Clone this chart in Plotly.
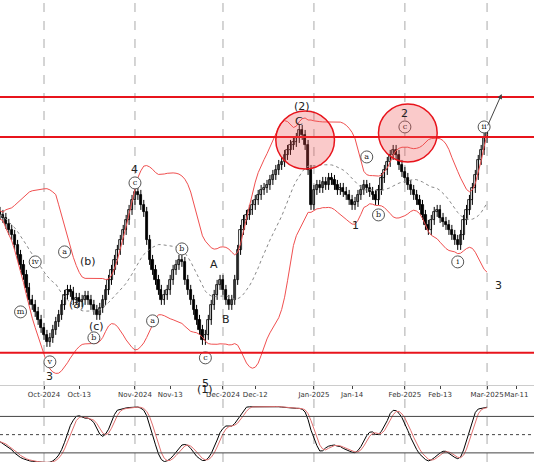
import numpy as np
import pandas as pd
import plotly.graph_objects as go

# daily closes (price units), from 2024-09-16
closes = [185, 182, 176, 170, 165, 155, 145, 135, 125, 112,
          100, 95, 88, 80, 72, 65, 58, 62, 70, 78,
          85, 95, 105, 110, 108, 100, 102, 98, 100, 104,
          100, 95, 90, 85, 92, 100, 110, 120, 130, 140,
          150, 160, 170, 180, 190, 200, 208, 205, 195, 188,
          160, 140, 130, 120, 110, 100, 105, 110, 120, 130,
          135, 140, 138, 120, 110, 100, 90, 80, 70, 60,
          65, 80, 95, 105, 115, 120, 110, 100, 95, 100,
          120, 150, 170, 180, 185, 190, 195, 200, 205, 210,
          212, 215, 220, 225, 230, 235, 238, 245, 250, 255,
          258, 262, 270, 265, 255, 230, 195, 210, 215, 212,
          218, 215, 222, 220, 215, 210, 212, 208, 205, 200,
          195, 198, 205, 210, 215, 212, 208, 205, 200, 210,
          222, 230, 238, 245, 250, 245, 235, 228, 222, 215,
          210, 205, 200, 195, 185, 175, 170, 180, 188, 190,
          182, 178, 175, 170, 165, 160, 155, 165, 180, 190,
          200, 212, 225, 240, 250, 262, 268]
levels = [303, 263, 47]
tick_dates = ["2024-10-01", "2024-10-13", "2024-11-01", "2024-11-13", "2024-12-01",
              "2024-12-12", "2025-01-01", "2025-01-14", "2025-02-01", "2025-02-13", "2025-03-01", "2025-03-11"]
tick_text = ["Oct-2024", "Oct-13", "Nov-2024", "Nov-13", "Dec-2024", "Dec-12",
             "Jan-2025", "Jan-14", "Feb-2025", "Feb-13", "Mar-2025", "Mar-11"]
month_lines = ["2024-10-01", "2024-11-01", "2024-12-01", "2025-01-01", "2025-02-01", "2025-03-01"]
# wave labels: (date, price, text, circled)
labels = [("2024-10-03", 38, "v", True), ("2024-10-03", 23, "3", False),
          ("2024-09-23", 88, "m", True), ("2024-09-28", 138, "iv", True),
          ("2024-10-08", 148, "a", True), ("2024-10-12", 95, "(a)", False),
          ("2024-10-16", 138, "(b)", False), ("2024-10-19", 73, "(c)", False),
          ("2024-10-18", 62, "b", True), ("2024-11-01", 217, "c", True),
          ("2024-11-01", 230, "4", False), ("2024-11-07", 79, "a", True),
          ("2024-11-17", 151, "b", True), ("2024-11-28", 135, "A", False),
          ("2024-12-02", 80, "B", False), ("2024-11-25", 42, "c", True),
          ("2024-11-25", 16, "5", False), ("2024-11-25", 2, "(1)", False),
          ("2024-12-28", 293, "(2)", False), ("2024-12-27", 278, "C", False),
          ("2025-01-19", 243, "a", True), ("2025-01-23", 185, "b", True),
          ("2025-01-15", 174, "1", False), ("2025-02-01", 273, "c", True),
          ("2025-02-01", 286, "2", False), ("2025-02-19", 138, "i", True),
          ("2025-02-28", 273, "ii", True), ("2025-03-05", 114, "3", False)]

YMIN, YMAX, YDOM = 15, 400, (0.167, 1)

dates = pd.date_range("2024-09-16", periods=len(closes), freq="D")
c = pd.Series(closes, index=dates, dtype=float)
o = c.shift(1).fillna(c.iloc[0] + 3)
h = np.maximum(o, c) + 5
l = np.minimum(o, c) - 5

mid = c.rolling(20, min_periods=1).mean()
sd = c.rolling(20, min_periods=2).std().bfill()
up, lo = mid + 2 * sd, mid - 2 * sd
ll, hh = l.rolling(14, min_periods=1).min(), h.rolling(14, min_periods=1).max()
k = (100 * (c - ll) / (hh - ll)).rolling(5, min_periods=1).mean()
d = k.rolling(3, min_periods=1).mean()

fig = go.Figure()
# wicks
wx, wy = [], []
for t, hi, lw in zip(dates, h, l):
    wx += [t, t, None]
    wy += [lw, hi, None]
fig.add_trace(go.Scatter(x=wx, y=wy, mode="lines", line=dict(color="black", width=1), showlegend=False))
# bodies
body = np.maximum(np.abs(c - o), 1.5)
fig.add_trace(go.Bar(x=dates, y=body, base=np.minimum(o, c), width=0.75 * 86400000,
                     marker=dict(color=np.where(c >= o, "white", "black"), line=dict(color="black", width=0.8)),
                     showlegend=False))
fig.add_trace(go.Scatter(x=dates, y=up, mode="lines", line=dict(color="#f05050", width=1), showlegend=False))
fig.add_trace(go.Scatter(x=dates, y=lo, mode="lines", line=dict(color="#f05050", width=1), showlegend=False))
fig.add_trace(go.Scatter(x=dates, y=mid, mode="lines", line=dict(color="#888", width=1, dash="dot"), showlegend=False))

sel = [lb for lb in labels if lb[3]]
fig.add_trace(go.Scatter(
    x=[s[0] for s in sel], y=[s[1] for s in sel], text=[s[2] for s in sel],
    mode="markers+text", textposition="middle center", cliponaxis=False,
    marker=dict(symbol="circle", size=12, color="white", line=dict(color="#555", width=1)),
    textfont=dict(family="DejaVu Serif", size=8, color="#222"), showlegend=False))
for s in labels:
    if not s[3]:
        if s[1] < YMIN:
            py = YDOM[0] + (s[1] - YMIN) / (YMAX - YMIN) * (YDOM[1] - YDOM[0])
            fig.add_annotation(x=s[0], y=py, yref="paper", text=s[2], showarrow=False,
                               font=dict(family="DejaVu Sans", size=11, color="#222"))
        else:
            fig.add_annotation(x=s[0], y=s[1], text=s[2], showarrow=False,
                               font=dict(family="DejaVu Sans", size=11, color="#222"))

fig.add_trace(go.Scatter(x=dates, y=k, mode="lines", line=dict(color="black", width=1),
                         xaxis="x2", yaxis="y2", showlegend=False))
fig.add_trace(go.Scatter(x=dates, y=d, mode="lines", line=dict(color="#e07070", width=1),
                         xaxis="x2", yaxis="y2", showlegend=False))

for lv in levels:
    fig.add_shape(type="line", xref="paper", x0=0, x1=1, yref="y", y0=lv, y1=lv,
                  line=dict(color="#e8141c", width=2))
for m in month_lines:
    fig.add_shape(type="line", xref="x", x0=m, x1=m, yref="paper", y0=0, y1=1,
                  line=dict(color="#aaa", width=1, dash="dash"), layer="below")
for cx, cy in [("2024-12-29", 260), ("2025-02-02", 267)]:
    t = pd.Timestamp(cx)
    fig.add_shape(type="circle", xref="x", yref="y", x0=t - pd.Timedelta(days=10), x1=t + pd.Timedelta(days=10),
                  y0=cy - 29, y1=cy + 29, line=dict(color="#e8141c", width=1.5), fillcolor="rgba(240,80,80,0.3)")
for lv, dash in [(80, "solid"), (50, "dot"), (20, "solid")]:
    fig.add_shape(type="line", xref="paper", x0=0, x1=1, yref="y2", y0=lv, y1=lv,
                  line=dict(color="#444", width=1, dash=dash))
fig.add_annotation(x="2025-03-06", y=306, ax="2025-03-01", ay=273, xref="x", yref="y", axref="x", ayref="y",
                   showarrow=True, arrowhead=2, arrowsize=1, arrowwidth=1, text="")

xr = ["2024-09-16", "2025-03-17"]
fig.update_layout(
    template="none",
    width=534, height=462, margin=dict(l=0, r=0, t=0, b=0, autoexpand=False),
    paper_bgcolor="white", plot_bgcolor="white", bargap=0,
    xaxis=dict(range=xr, domain=[0, 1], anchor="y", showgrid=False,
               tickvals=tick_dates, ticktext=tick_text, tickangle=0, automargin=False,
               tickfont=dict(size=7, family="DejaVu Sans", color="#333"),
               ticks="outside", ticklen=3, showline=True, linecolor="#ccc"),
    yaxis=dict(range=[YMIN, YMAX], domain=list(YDOM), showticklabels=False, showgrid=False, zeroline=False,
               automargin=False),
    xaxis2=dict(range=xr, domain=[0, 1], anchor="y2", showticklabels=False, showgrid=False, automargin=False),
    yaxis2=dict(range=[5, 100], domain=[0, 0.125], showticklabels=False, showgrid=False, zeroline=False,
                automargin=False),
)

fig.write_html("out.html", config={"displayModeBar": False},
               post_script="document.body.style.margin='0';")
